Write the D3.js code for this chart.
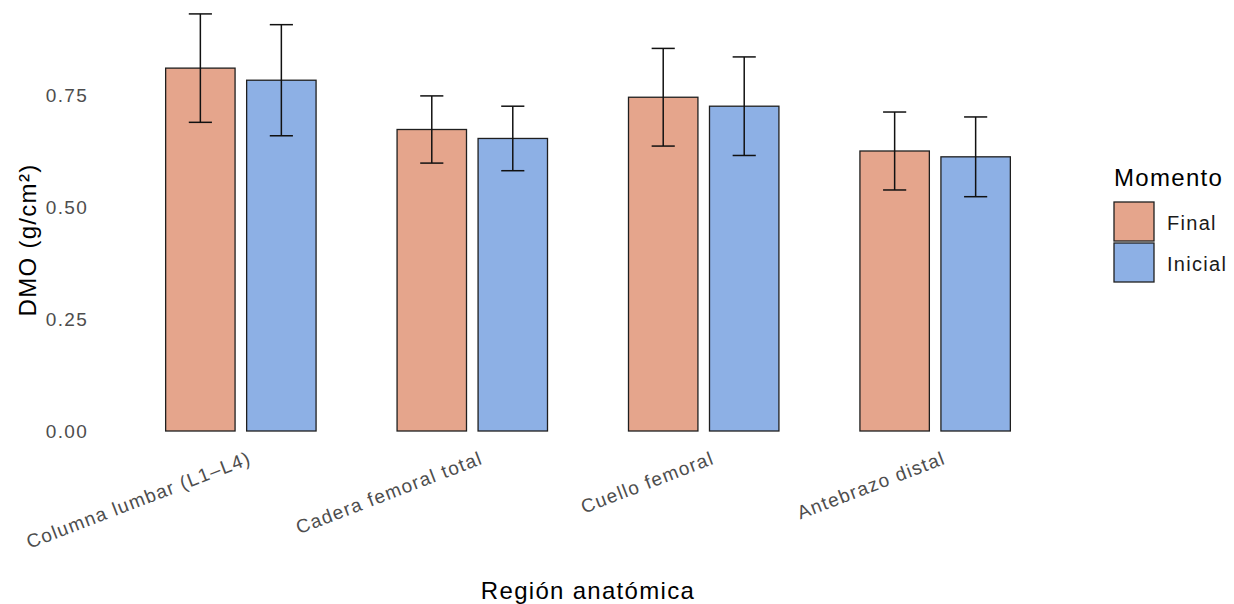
<!DOCTYPE html>
<html>
<head>
<meta charset="utf-8">
<script src="https://cdn.jsdelivr.net/npm/d3@7"></script>
<style>
  html, body { margin: 0; padding: 0; background: #ffffff; }
  svg { display: block; }
  text { font-family: "Liberation Sans", Arial, sans-serif; letter-spacing: 1.3px; }
</style>
</head>
<body>
<svg id="chart" width="1234" height="604"></svg>
<script>
// Bone mineral density by anatomical region, final vs initial measurement
const regions = ["Columna lumbar (L1–L4)", "Cadera femoral total", "Cuello femoral", "Antebrazo distal"];
const moments = ["Final", "Inicial"];
const finalMean = [0.810, 0.673, 0.745, 0.625];
const finalSD = [0.121, 0.075, 0.109, 0.087];
const inicialMean = [0.783, 0.653, 0.725, 0.612];
const inicialSD = [0.124, 0.072, 0.110, 0.089];
const yTicks = [0, 0.25, 0.5, 0.75];
const fills = ["#E5A58C", "#8DB0E5"];

const rows = [];
regions.forEach((r, i) => {
  rows.push({ region: r, moment: "Final", mean: finalMean[i], sd: finalSD[i] });
  rows.push({ region: r, moment: "Inicial", mean: inicialMean[i], sd: inicialSD[i] });
});

const svg = d3.select("#chart");
const panel = { left: 102, right: 1074, top: 0, bottom: 452 };

// discrete axis with 0.6 units of padding on each side
const step = (panel.right - panel.left) / (regions.length - 1 + 1.2);
const x = d3.scalePoint().domain(regions)
  .range([panel.left + 0.6 * step, panel.right - 0.6 * step]);
const dodge = 0.7 * step;
const barW = 0.3 * step;
const xm = d3.scaleBand().domain(moments).range([-dodge / 2, dodge / 2]);

const y = d3.scaleLinear().domain([0, 1]).range([431, -17]);
const color = d3.scaleOrdinal().domain(moments).range(fills);

const g = svg.append("g");

// bars
g.selectAll("rect.bar").data(rows).join("rect")
  .attr("class", "bar")
  .attr("x", d => x(d.region) + xm(d.moment) + xm.bandwidth() / 2 - barW / 2)
  .attr("width", barW)
  .attr("y", d => y(d.mean))
  .attr("height", d => y(0) - y(d.mean))
  .attr("fill", d => color(d.moment))
  .attr("stroke", "#1f1f1f")
  .attr("stroke-width", 1.3);

// error bars (mean ± SD)
const capW = 0.1 * step;
const eb = g.selectAll("g.err").data(rows).join("g").attr("class", "err")
  .attr("transform", d => `translate(${x(d.region) + xm(d.moment) + xm.bandwidth() / 2},0)`);
eb.append("line")
  .attr("x1", 0).attr("x2", 0)
  .attr("y1", d => y(d.mean + d.sd)).attr("y2", d => y(d.mean - d.sd));
eb.append("line")
  .attr("x1", -capW / 2).attr("x2", capW / 2)
  .attr("y1", d => y(d.mean + d.sd)).attr("y2", d => y(d.mean + d.sd));
eb.append("line")
  .attr("x1", -capW / 2).attr("x2", capW / 2)
  .attr("y1", d => y(d.mean - d.sd)).attr("y2", d => y(d.mean - d.sd));
eb.selectAll("line").attr("stroke", "#111").attr("stroke-width", 1.5);

// y axis: labels only
const yAxis = d3.axisLeft(y).tickValues(yTicks).tickFormat(d3.format(".2f")).tickSize(0).tickPadding(0);
const ya = svg.append("g").attr("transform", "translate(88,0)").call(yAxis);
ya.select(".domain").remove();
ya.selectAll("text").attr("font-size", 19).attr("fill", "#4d4d4d")
  .attr("font-family", "Liberation Sans, Arial, sans-serif");

// x axis: rotated labels
const xAxis = d3.axisBottom(x).tickSize(0).tickPadding(0);
const xa = svg.append("g").attr("transform", "translate(0,450)").call(xAxis);
xa.select(".domain").remove();
xa.selectAll("text")
  .attr("font-size", 19).attr("fill", "#4d4d4d")
  .attr("font-family", "Liberation Sans, Arial, sans-serif")
  .attr("text-anchor", "end")
  .attr("y", 0).attr("dy", "0.75em")
  .attr("transform", "translate(6,0) rotate(-21)");

// axis titles
svg.append("text")
  .attr("x", (panel.left + panel.right) / 2).attr("y", 599)
  .attr("text-anchor", "middle").attr("font-size", 24).attr("fill", "#000")
  .text("Región anatómica");
svg.append("text")
  .attr("transform", "translate(36,240) rotate(-90)")
  .attr("text-anchor", "middle").attr("font-size", 24).attr("fill", "#000")
  .text("DMO (g/cm²)");

// legend
const lg = svg.append("g").attr("transform", "translate(1114,0)");
lg.append("text").attr("x", 0).attr("y", 186).attr("font-size", 24).attr("fill", "#000").text("Momento");
const items = lg.selectAll("g.item").data(moments).join("g").attr("class", "item")
  .attr("transform", (d, i) => `translate(0,${202 + i * 41})`);
items.append("rect").attr("x", 0).attr("y", 0).attr("width", 40).attr("height", 39)
  .attr("fill", d => color(d)).attr("stroke", "#1f1f1f").attr("stroke-width", 1.3);
items.append("text").attr("x", 53).attr("y", 21).attr("dy", "0.35em")
  .attr("font-size", 20).attr("fill", "#1a1a1a").text(d => d);
</script>
</body>
</html>
